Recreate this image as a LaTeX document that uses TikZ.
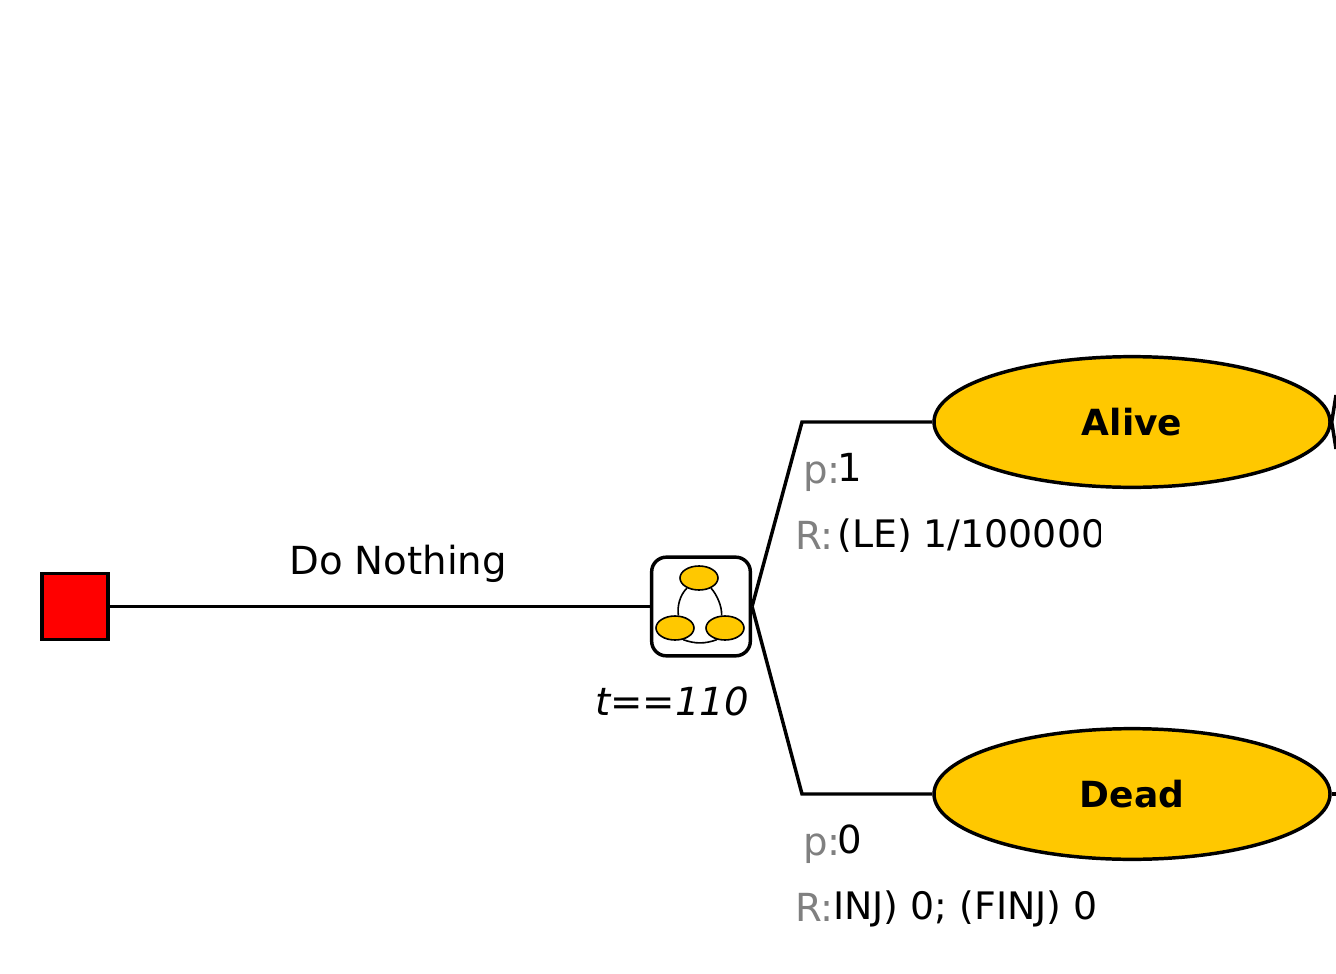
\documentclass[tikz,border=0pt]{standalone}
\usepackage{fontspec}
\setmainfont{DejaVu Sans}
\usetikzlibrary{positioning, shapes.geometric}

\definecolor{stategold}{HTML}{FFC800}

\begin{document}
\begin{tikzpicture}[
  x=0.75pt, y=-0.75pt,
  font=\fontsize{29}{33}\selectfont,
  link/.style={draw, line width=2.6pt, line join=miter},
  decision/.style={draw, line width=2.6pt, fill=red, minimum width=49.5pt, minimum height=49.5pt, inner sep=0pt},
  chance/.style={draw, line width=2.6pt, rounded corners=11pt, fill=white, minimum width=74pt, minimum height=74pt, inner sep=0pt},
  state/.style={draw, ellipse, line width=2.6pt, fill=stategold, minimum width=297pt, minimum height=98pt, inner sep=0pt, font=\fontsize{27}{31}\selectfont\bfseries},
  ministate/.style={draw, ellipse, line width=1.2pt, fill=stategold, minimum width=28.5pt, minimum height=18pt, inner sep=0pt},
  minilink/.style={draw, line width=1.2pt},
  txt/.style={anchor=base west, inner sep=0pt},
  key/.style={txt, text=gray},
  reward/.style={txt, font=\fontsize{28.4}{32}\selectfont}
]
\useasboundingbox (0,0) rectangle (1336,974);

% --- root ---
\node[decision] (root)   at (75,606.5)  {};
\node[chance]   (markov) at (701,606.5) {};
\draw[link] (root.east) -- (root.east-|markov.west);
\node[txt] (action) at (289,574) {Do Nothing};
\node[txt, font=\fontsize{29}{33}\selectfont\itshape] (guard) at (595,715) {t==110};

% --- small states inside the chance node ---
\node[ministate] (minitop)   at (699,578) {};
\node[ministate] (minileft)  at (675,628) {};
\node[ministate] (miniright) at (725,628) {};
\draw[minilink] (minitop.220) .. controls (680,595) and (677,606) .. (minileft.75);
\draw[minilink] (minitop.320) .. controls (717,595) and (722,606) .. (miniright.105);
\draw[minilink] (minileft.305) .. controls (695,644) and (705,644) .. (miniright.235);

% --- outcome states ---
\coordinate (aliveknee) at (802,422);
\coordinate (deadknee)  at (802,794);
\node[state] (alive) at (1132,422) {Alive};
\node[state] (dead)  at (1132,794) {Dead};
\draw[link] (markov.east) -- (aliveknee) -- (alive.west);
\draw[link] (markov.east) -- (deadknee) -- (dead.west);

% lines running off the right edge
\coordinate (aliveup)   at (1336,395);
\coordinate (alivedown) at (1336,449);
\coordinate (deadout)   at (1336,794);
\draw[link] (aliveup) -- (alive.east) -- (alivedown);
\draw[link] (dead.east) -- (deadout);

% --- alive labels ---
\node[key] (alivep) at (803,483) {p:};
\node[txt] (alivepval) at (837,481) {1};
\node[key] (aliver) at (795,549) {R:};
\begin{scope}
  \clip (830,500) rectangle (1100,570);
  \node[reward] (aliverval) at (837,547) {(LE) 1/100000};
\end{scope}

% --- dead labels ---
\node[key] (deadp) at (803,855) {p:};
\node[txt] (deadpval) at (837,853) {0};
\node[key] (deadr) at (795,921) {R:};
\node[reward] (deadrval) at (833,919) {INJ) 0; (FINJ) 0};
\end{tikzpicture}
\end{document}
